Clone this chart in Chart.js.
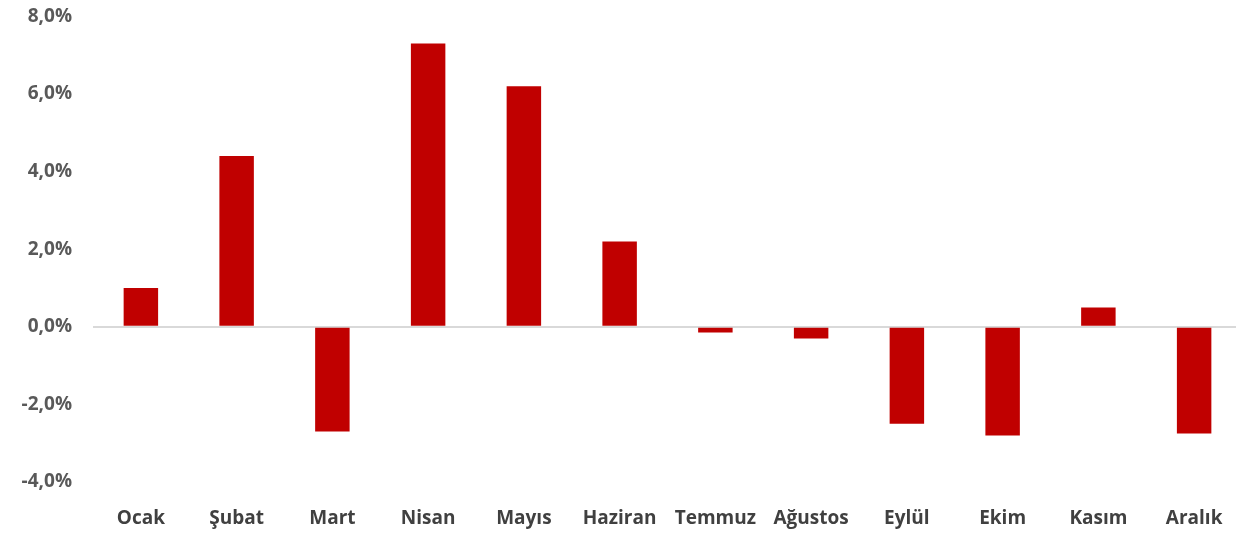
<!DOCTYPE html>
<html>
<head>
<meta charset="utf-8">
<script src="https://cdn.jsdelivr.net/npm/chart.js@4"></script>
<style>
  html, body { margin: 0; padding: 0; background: #fff; overflow: hidden; }
  #wrap { width: 1242px; height: 549px; margin-top: -16px; }
</style>
</head>
<body>
<div id="wrap"><canvas id="chart"></canvas></div>
<script>
// Monthly change, %
const months = ['Ocak', 'Şubat', 'Mart', 'Nisan', 'Mayıs', 'Haziran', 'Temmuz', 'Ağustos', 'Eylül', 'Ekim', 'Kasım', 'Aralık'];
const values = [1.0, 4.4, -2.7, 7.3, 6.2, 2.2, -0.15, -0.3, -2.5, -2.8, 0.5, -2.75];
const yTicks = [-4, -2, 0, 2, 4, 6, 8];

const fmtPct = v => v.toFixed(1).replace('.', ',') + '%';

new Chart(document.getElementById('chart'), {
  type: 'bar',
  data: {
    labels: months,
    datasets: [{
      data: values,
      backgroundColor: '#c00000',
      barPercentage: 0.36,
      categoryPercentage: 1,
    }],
  },
  options: {
    responsive: true,
    maintainAspectRatio: false,
    animation: false,
    layout: { padding: { top: -8, bottom: 0, left: 0, right: 0 } },
    plugins: { legend: { display: false }, tooltip: { enabled: false } },
    scales: {
      x: {
        grid: { display: false },
        border: { display: false },
        afterFit: scale => { scale.height = 51; },
        ticks: {
          color: '#404040',
          font: { family: 'Open Sans', size: 19, weight: 'bold' },
          padding: 17,
          maxRotation: 0,
          autoSkip: false,
        },
      },
      y: {
        min: -4,
        max: 8,
        afterBuildTicks: scale => { scale.ticks = yTicks.map(v => ({ value: v })); },
        afterFit: scale => { scale.width = 93; },
        border: { display: false },
        grid: {
          drawTicks: false,
          lineWidth: ctx => (ctx.tick && ctx.tick.value === 0 ? 2 : 0),
          color: '#d9d9d9',
        },
        ticks: {
          color: '#595959',
          font: { family: 'Open Sans', size: 19, weight: 'bold' },
          padding: 21,
          callback: v => fmtPct(v),
        },
      },
    },
  },
});
</script>
</body>
</html>
